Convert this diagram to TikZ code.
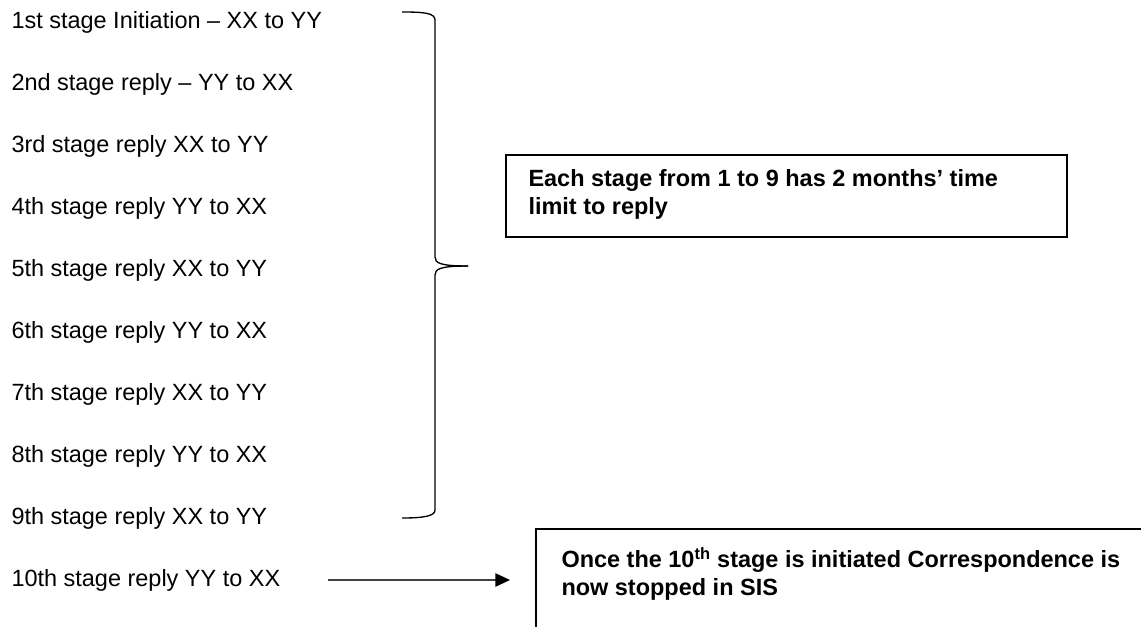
\documentclass[tikz,border=0pt]{standalone}
\usepackage{fontspec}
\setmainfont{Liberation Sans}
\usetikzlibrary{arrows.meta}

\tikzset{every picture/.style={line width=0.75pt}}
\tikzset{
  stagetext/.style={anchor=west,inner sep=0.75pt,font=\fontsize{17.6}{21}\selectfont},
  notetext/.style={anchor=west,inner sep=0.75pt,align=left,font=\fontsize{17.6}{21}\selectfont\bfseries},
  noteframe/.style={line width=1.5pt},
  bracepath/.style={line width=1pt},
  pointer/.style={color={rgb, 255:red, 64; green, 64; blue, 64 },line width=1.2pt,-{Triangle[length=11pt,width=10pt,color=black]}}
}

\begin{document}
\begin{tikzpicture}[x=0.75pt,y=0.75pt,yscale=-1,xscale=1]
\useasboundingbox (0,0) rectangle (1141,627);

% Text Node
\node [stagetext] (s1) at (10,22) {1st stage Initiation – XX to YY};
% Text Node
\node [stagetext] (s2) at (10,84) {2nd stage reply – YY to XX};
% Text Node
\node [stagetext] (s3) at (10,146) {3rd stage reply XX to YY};
% Text Node
\node [stagetext] (s4) at (10,208) {4th stage reply YY to XX};
% Text Node
\node [stagetext] (s5) at (10,270) {5th stage reply XX to YY};
% Text Node
\node [stagetext] (s6) at (10,332) {6th stage reply YY to XX};
% Text Node
\node [stagetext] (s7) at (10,394) {7th stage reply XX to YY};
% Text Node
\node [stagetext] (s8) at (10,456) {8th stage reply YY to XX};
% Text Node
\node [stagetext] (s9) at (10,518) {9th stage reply XX to YY};
% Text Node
\node [stagetext] (s10) at (10,580) {10th stage reply YY to XX};

%Right Brace
\draw [bracepath] (402,12) .. controls (424,12) and (435,13) .. (435,20) -- (435,257) .. controls (435,263) and (440,266) .. (468,266) ;
\draw [bracepath] (468,266) .. controls (440,266) and (435,269) .. (435,275) -- (435,510) .. controls (435,516) and (424,518) .. (402,518) ;

%Shape: Rectangle
\draw [noteframe] (506,155) rectangle (1067,237) ;
% Text Node
\node [notetext] (limitnote) at (527,194) {Each stage from 1 to 9 has 2 months’ time\\limit to reply};

%Shape: Rectangle (cut off)
\draw [noteframe] (536,627) -- (536,529) -- (1141,529) ;
% Text Node
\node [notetext] (stopnote) at (560,574) {Once the 10\textsuperscript{th} stage is initiated Correspondence is\\now stopped in SIS};

%Straight Lines
\coordinate (stopin) at (510,580);
\draw [pointer] ([xshift=35pt]s10.east) -- (s10.east -| stopin) ;

\end{tikzpicture}
\end{document}
